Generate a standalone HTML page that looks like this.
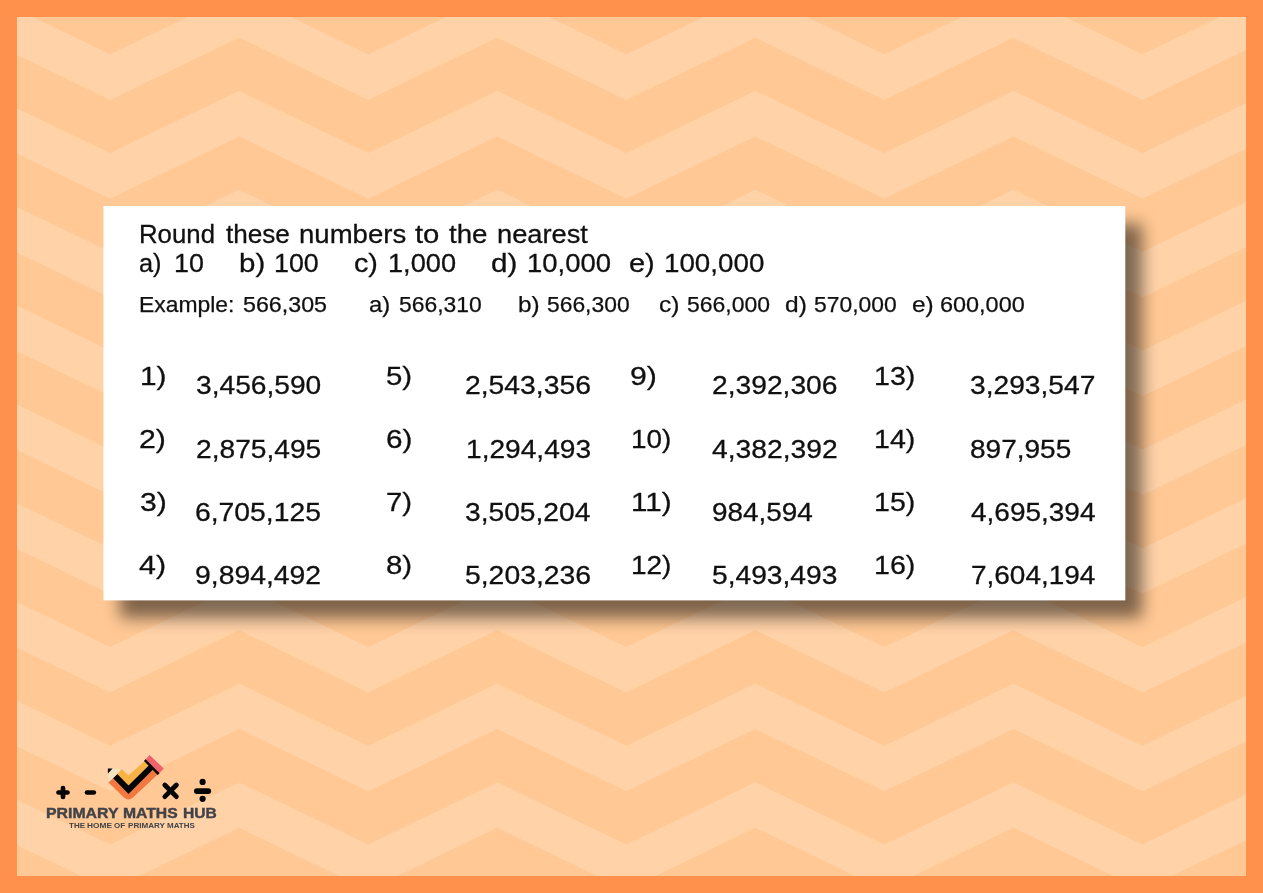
<!DOCTYPE html>
<html lang="en"><head><meta charset="utf-8"><title>Rounding numbers</title>
<style>
html,body{margin:0;padding:0}
body{width:1263px;height:893px;overflow:hidden;background:#FF914D;position:relative;font-family:"Liberation Sans",sans-serif}
#bg{position:absolute;left:0;top:0;width:1263px;height:893px;display:block}
#shadow{position:absolute;left:119.5px;top:223.7px;width:1022.5px;height:394.8px;background:rgba(0,0,0,0.5);filter:blur(8px)}
#card{position:absolute;left:0;top:0;width:1263px;height:893px;display:block}
.t{position:absolute;white-space:pre;line-height:1;transform-origin:0 0;font-family:"Liberation Sans",sans-serif}
#logo{position:absolute;left:0;top:0;width:1263px;height:893px;display:block;pointer-events:none}
</style></head><body>
<svg id="bg" width="1263" height="893" viewBox="0 0 1263 893">
<defs><clipPath id="inner"><rect x="17" y="17" width="1229" height="859"/></clipPath></defs>
<rect x="17" y="17" width="1229" height="859" fill="#FFC894"/>
<g clip-path="url(#inner)" fill="#FFD2A7">
<polygon points="-406.10,-143.24 -277.05,-205.44 -148.00,-143.24 -18.95,-205.44 110.10,-143.24 239.15,-205.44 368.20,-143.24 497.25,-205.44 626.30,-143.24 755.35,-205.44 884.40,-143.24 1013.45,-205.44 1142.50,-143.24 1271.55,-205.44 1400.60,-143.24 1529.65,-205.44 1658.70,-143.24 1787.75,-205.44 1787.75,-159.84 1658.70,-97.64 1529.65,-159.84 1400.60,-97.64 1271.55,-159.84 1142.50,-97.64 1013.45,-159.84 884.40,-97.64 755.35,-159.84 626.30,-97.64 497.25,-159.84 368.20,-97.64 239.15,-159.84 110.10,-97.64 -18.95,-159.84 -148.00,-97.64 -277.05,-159.84 -406.10,-97.64"/>
<polygon points="-406.10,-44.47 -277.05,-106.67 -148.00,-44.47 -18.95,-106.67 110.10,-44.47 239.15,-106.67 368.20,-44.47 497.25,-106.67 626.30,-44.47 755.35,-106.67 884.40,-44.47 1013.45,-106.67 1142.50,-44.47 1271.55,-106.67 1400.60,-44.47 1529.65,-106.67 1658.70,-44.47 1787.75,-106.67 1787.75,-61.07 1658.70,1.13 1529.65,-61.07 1400.60,1.13 1271.55,-61.07 1142.50,1.13 1013.45,-61.07 884.40,1.13 755.35,-61.07 626.30,1.13 497.25,-61.07 368.20,1.13 239.15,-61.07 110.10,1.13 -18.95,-61.07 -148.00,1.13 -277.05,-61.07 -406.10,1.13"/>
<polygon points="-406.10,54.30 -277.05,-7.90 -148.00,54.30 -18.95,-7.90 110.10,54.30 239.15,-7.90 368.20,54.30 497.25,-7.90 626.30,54.30 755.35,-7.90 884.40,54.30 1013.45,-7.90 1142.50,54.30 1271.55,-7.90 1400.60,54.30 1529.65,-7.90 1658.70,54.30 1787.75,-7.90 1787.75,37.70 1658.70,99.90 1529.65,37.70 1400.60,99.90 1271.55,37.70 1142.50,99.90 1013.45,37.70 884.40,99.90 755.35,37.70 626.30,99.90 497.25,37.70 368.20,99.90 239.15,37.70 110.10,99.90 -18.95,37.70 -148.00,99.90 -277.05,37.70 -406.10,99.90"/>
<polygon points="-406.10,153.07 -277.05,90.87 -148.00,153.07 -18.95,90.87 110.10,153.07 239.15,90.87 368.20,153.07 497.25,90.87 626.30,153.07 755.35,90.87 884.40,153.07 1013.45,90.87 1142.50,153.07 1271.55,90.87 1400.60,153.07 1529.65,90.87 1658.70,153.07 1787.75,90.87 1787.75,136.47 1658.70,198.67 1529.65,136.47 1400.60,198.67 1271.55,136.47 1142.50,198.67 1013.45,136.47 884.40,198.67 755.35,136.47 626.30,198.67 497.25,136.47 368.20,198.67 239.15,136.47 110.10,198.67 -18.95,136.47 -148.00,198.67 -277.05,136.47 -406.10,198.67"/>
<polygon points="-406.10,251.84 -277.05,189.64 -148.00,251.84 -18.95,189.64 110.10,251.84 239.15,189.64 368.20,251.84 497.25,189.64 626.30,251.84 755.35,189.64 884.40,251.84 1013.45,189.64 1142.50,251.84 1271.55,189.64 1400.60,251.84 1529.65,189.64 1658.70,251.84 1787.75,189.64 1787.75,235.24 1658.70,297.44 1529.65,235.24 1400.60,297.44 1271.55,235.24 1142.50,297.44 1013.45,235.24 884.40,297.44 755.35,235.24 626.30,297.44 497.25,235.24 368.20,297.44 239.15,235.24 110.10,297.44 -18.95,235.24 -148.00,297.44 -277.05,235.24 -406.10,297.44"/>
<polygon points="-406.10,350.61 -277.05,288.41 -148.00,350.61 -18.95,288.41 110.10,350.61 239.15,288.41 368.20,350.61 497.25,288.41 626.30,350.61 755.35,288.41 884.40,350.61 1013.45,288.41 1142.50,350.61 1271.55,288.41 1400.60,350.61 1529.65,288.41 1658.70,350.61 1787.75,288.41 1787.75,334.01 1658.70,396.21 1529.65,334.01 1400.60,396.21 1271.55,334.01 1142.50,396.21 1013.45,334.01 884.40,396.21 755.35,334.01 626.30,396.21 497.25,334.01 368.20,396.21 239.15,334.01 110.10,396.21 -18.95,334.01 -148.00,396.21 -277.05,334.01 -406.10,396.21"/>
<polygon points="-406.10,449.38 -277.05,387.18 -148.00,449.38 -18.95,387.18 110.10,449.38 239.15,387.18 368.20,449.38 497.25,387.18 626.30,449.38 755.35,387.18 884.40,449.38 1013.45,387.18 1142.50,449.38 1271.55,387.18 1400.60,449.38 1529.65,387.18 1658.70,449.38 1787.75,387.18 1787.75,432.78 1658.70,494.98 1529.65,432.78 1400.60,494.98 1271.55,432.78 1142.50,494.98 1013.45,432.78 884.40,494.98 755.35,432.78 626.30,494.98 497.25,432.78 368.20,494.98 239.15,432.78 110.10,494.98 -18.95,432.78 -148.00,494.98 -277.05,432.78 -406.10,494.98"/>
<polygon points="-406.10,548.15 -277.05,485.95 -148.00,548.15 -18.95,485.95 110.10,548.15 239.15,485.95 368.20,548.15 497.25,485.95 626.30,548.15 755.35,485.95 884.40,548.15 1013.45,485.95 1142.50,548.15 1271.55,485.95 1400.60,548.15 1529.65,485.95 1658.70,548.15 1787.75,485.95 1787.75,531.55 1658.70,593.75 1529.65,531.55 1400.60,593.75 1271.55,531.55 1142.50,593.75 1013.45,531.55 884.40,593.75 755.35,531.55 626.30,593.75 497.25,531.55 368.20,593.75 239.15,531.55 110.10,593.75 -18.95,531.55 -148.00,593.75 -277.05,531.55 -406.10,593.75"/>
<polygon points="-406.10,646.92 -277.05,584.72 -148.00,646.92 -18.95,584.72 110.10,646.92 239.15,584.72 368.20,646.92 497.25,584.72 626.30,646.92 755.35,584.72 884.40,646.92 1013.45,584.72 1142.50,646.92 1271.55,584.72 1400.60,646.92 1529.65,584.72 1658.70,646.92 1787.75,584.72 1787.75,630.32 1658.70,692.52 1529.65,630.32 1400.60,692.52 1271.55,630.32 1142.50,692.52 1013.45,630.32 884.40,692.52 755.35,630.32 626.30,692.52 497.25,630.32 368.20,692.52 239.15,630.32 110.10,692.52 -18.95,630.32 -148.00,692.52 -277.05,630.32 -406.10,692.52"/>
<polygon points="-406.10,745.69 -277.05,683.49 -148.00,745.69 -18.95,683.49 110.10,745.69 239.15,683.49 368.20,745.69 497.25,683.49 626.30,745.69 755.35,683.49 884.40,745.69 1013.45,683.49 1142.50,745.69 1271.55,683.49 1400.60,745.69 1529.65,683.49 1658.70,745.69 1787.75,683.49 1787.75,729.09 1658.70,791.29 1529.65,729.09 1400.60,791.29 1271.55,729.09 1142.50,791.29 1013.45,729.09 884.40,791.29 755.35,729.09 626.30,791.29 497.25,729.09 368.20,791.29 239.15,729.09 110.10,791.29 -18.95,729.09 -148.00,791.29 -277.05,729.09 -406.10,791.29"/>
<polygon points="-406.10,844.46 -277.05,782.26 -148.00,844.46 -18.95,782.26 110.10,844.46 239.15,782.26 368.20,844.46 497.25,782.26 626.30,844.46 755.35,782.26 884.40,844.46 1013.45,782.26 1142.50,844.46 1271.55,782.26 1400.60,844.46 1529.65,782.26 1658.70,844.46 1787.75,782.26 1787.75,827.86 1658.70,890.06 1529.65,827.86 1400.60,890.06 1271.55,827.86 1142.50,890.06 1013.45,827.86 884.40,890.06 755.35,827.86 626.30,890.06 497.25,827.86 368.20,890.06 239.15,827.86 110.10,890.06 -18.95,827.86 -148.00,890.06 -277.05,827.86 -406.10,890.06"/>
<polygon points="-406.10,943.23 -277.05,881.03 -148.00,943.23 -18.95,881.03 110.10,943.23 239.15,881.03 368.20,943.23 497.25,881.03 626.30,943.23 755.35,881.03 884.40,943.23 1013.45,881.03 1142.50,943.23 1271.55,881.03 1400.60,943.23 1529.65,881.03 1658.70,943.23 1787.75,881.03 1787.75,926.63 1658.70,988.83 1529.65,926.63 1400.60,988.83 1271.55,926.63 1142.50,988.83 1013.45,926.63 884.40,988.83 755.35,926.63 626.30,988.83 497.25,926.63 368.20,988.83 239.15,926.63 110.10,988.83 -18.95,926.63 -148.00,988.83 -277.05,926.63 -406.10,988.83"/>
</g>
</svg>
<div id="shadow"></div>
<svg id="card" width="1263" height="893" viewBox="0 0 1263 893"><defs><filter id="soft" x="-1%" y="-2%" width="102%" height="104%"><feGaussianBlur stdDeviation="0.45"/></filter></defs><rect x="103.4" y="206.0" width="1021.90" height="394.40" fill="#fff" filter="url(#soft)"/></svg>
<svg id="logo" width="1263" height="893" viewBox="0 0 1263 893">
<g stroke="#050505" stroke-linecap="round" fill="none">
<path d="M58.5 792.5H67.5M63 788.1V796.9" stroke-width="4.7"/>
<path d="M87 792.5H93.8" stroke-width="4.7"/>
<path d="M164.8 785L176.4 796.6M176.4 785L164.8 796.6" stroke-width="4.8"/>
<path d="M196.9 791.1H208.2" stroke-width="5.9"/>
</g>
<circle cx="202.6" cy="781.9" r="3.1" fill="#050505"/>
<circle cx="202.6" cy="798.8" r="3.1" fill="#050505"/>
<polygon points="108.1,768.6 121.6,768.9 117.5,773.9 113.1,778.3 108.4,782.6" fill="#F3E3C3"/>
<polygon points="107.9,768.5 112.6,768.5 107.9,773.6" fill="#050505"/>
<path d="M113.1 778.3L108.4 782.6L124.3 797.7Q128.5 801.3 132.7 797.7L158.1 774.0L153.1 769.5L128.5 794Z" fill="#F2783F"/>
<polygon points="117.5,773.9 128.5,785.2 149.0,765.1 153.1,769.5 128.5,794 113.1,778.3" fill="#050505"/>
<polygon points="121.6,768.9 128.5,775.6 145.3,760.5 149.0,765.1 128.5,785.2 117.5,773.9" fill="#F8B143"/>
<polygon points="143.9,760.9 145.9,759.0 159.7,773.1 157.7,775.0" fill="#050505"/>
<polygon points="149.6,754.9 163.7,768.5 159.5,773.2 145.7,759.2" fill="#EE6269"/>
</svg>

<span class="t" style="left:139.28px;top:221px;font-size:26.5px;font-weight:400;color:#101010;-webkit-text-stroke:0.3px #101010;transform:scaleX(0.9731)">Round</span>
<span class="t" style="left:225.61px;top:221px;font-size:26.5px;font-weight:400;color:#101010;-webkit-text-stroke:0.3px #101010;transform:scaleX(0.9856)">these</span>
<span class="t" style="left:299.12px;top:221px;font-size:26.5px;font-weight:400;color:#101010;-webkit-text-stroke:0.3px #101010;transform:scaleX(1.0401)">numbers</span>
<span class="t" style="left:414.82px;top:221px;font-size:26.5px;font-weight:400;color:#101010;-webkit-text-stroke:0.3px #101010;transform:scaleX(1.1031)">to</span>
<span class="t" style="left:448.91px;top:221px;font-size:26.5px;font-weight:400;color:#101010;-webkit-text-stroke:0.3px #101010;transform:scaleX(1.0435)">the</span>
<span class="t" style="left:496.60px;top:221px;font-size:26.5px;font-weight:400;color:#101010;-webkit-text-stroke:0.3px #101010;transform:scaleX(1.0273)">nearest</span>
<span class="t" style="left:139.25px;top:250px;font-size:26.5px;font-weight:400;color:#101010;-webkit-text-stroke:0.3px #101010;transform:scaleX(0.9561)">a)</span>
<span class="t" style="left:174.35px;top:250px;font-size:26.5px;font-weight:400;color:#101010;-webkit-text-stroke:0.3px #101010;transform:scaleX(1.0144)">10</span>
<span class="t" style="left:239.41px;top:250px;font-size:26.5px;font-weight:400;color:#101010;-webkit-text-stroke:0.3px #101010;transform:scaleX(1.1113)">b)</span>
<span class="t" style="left:274.49px;top:250px;font-size:26.5px;font-weight:400;color:#101010;-webkit-text-stroke:0.3px #101010;transform:scaleX(1.0100)">100</span>
<span class="t" style="left:354.40px;top:250px;font-size:26.5px;font-weight:400;color:#101010;-webkit-text-stroke:0.3px #101010;transform:scaleX(1.0849)">c)</span>
<span class="t" style="left:387.60px;top:250px;font-size:26.5px;font-weight:400;color:#101010;-webkit-text-stroke:0.3px #101010;transform:scaleX(1.0255)">1,000</span>
<span class="t" style="left:491.16px;top:250px;font-size:26.5px;font-weight:400;color:#101010;-webkit-text-stroke:0.3px #101010;transform:scaleX(1.1168)">d)</span>
<span class="t" style="left:527.36px;top:250px;font-size:26.5px;font-weight:400;color:#101010;-webkit-text-stroke:0.3px #101010;transform:scaleX(1.0363)">10,000</span>
<span class="t" style="left:628.56px;top:250px;font-size:26.5px;font-weight:400;color:#101010;-webkit-text-stroke:0.3px #101010;transform:scaleX(1.0920)">e)</span>
<span class="t" style="left:663.52px;top:250px;font-size:26.5px;font-weight:400;color:#101010;-webkit-text-stroke:0.3px #101010;transform:scaleX(1.0472)">100,000</span>
<span class="t" style="left:138.87px;top:294px;font-size:21.7px;font-weight:400;color:#101010;-webkit-text-stroke:0.25px #101010;transform:scaleX(1.0544)">Example:</span>
<span class="t" style="left:242.64px;top:294px;font-size:21.7px;font-weight:400;color:#101010;-webkit-text-stroke:0.25px #101010;transform:scaleX(1.0715)">566,305</span>
<span class="t" style="left:369.16px;top:294px;font-size:21.7px;font-weight:400;color:#101010;-webkit-text-stroke:0.25px #101010;transform:scaleX(1.0974)">a)</span>
<span class="t" style="left:398.72px;top:294px;font-size:21.7px;font-weight:400;color:#101010;-webkit-text-stroke:0.25px #101010;transform:scaleX(1.0550)">566,310</span>
<span class="t" style="left:517.80px;top:294px;font-size:21.7px;font-weight:400;color:#101010;-webkit-text-stroke:0.25px #101010;transform:scaleX(1.1224)">b)</span>
<span class="t" style="left:547.46px;top:294px;font-size:21.7px;font-weight:400;color:#101010;-webkit-text-stroke:0.25px #101010;transform:scaleX(1.0534)">566,300</span>
<span class="t" style="left:659.31px;top:294px;font-size:21.7px;font-weight:400;color:#101010;-webkit-text-stroke:0.25px #101010;transform:scaleX(1.1348)">c)</span>
<span class="t" style="left:686.81px;top:294px;font-size:21.7px;font-weight:400;color:#101010;-webkit-text-stroke:0.25px #101010;transform:scaleX(1.0590)">566,000</span>
<span class="t" style="left:784.64px;top:294px;font-size:21.7px;font-weight:400;color:#101010;-webkit-text-stroke:0.25px #101010;transform:scaleX(1.1306)">d)</span>
<span class="t" style="left:813.82px;top:294px;font-size:21.7px;font-weight:400;color:#101010;-webkit-text-stroke:0.25px #101010;transform:scaleX(1.0538)">570,000</span>
<span class="t" style="left:912.22px;top:294px;font-size:21.7px;font-weight:400;color:#101010;-webkit-text-stroke:0.25px #101010;transform:scaleX(1.1271)">e)</span>
<span class="t" style="left:939.89px;top:294px;font-size:21.7px;font-weight:400;color:#101010;-webkit-text-stroke:0.25px #101010;transform:scaleX(1.0808)">600,000</span>
<span class="t" style="left:139.59px;top:363px;font-size:26.5px;font-weight:400;color:#101010;-webkit-text-stroke:0.3px #101010;transform:scaleX(1.1248)">1)</span>
<span class="t" style="left:195.75px;top:372px;font-size:26.5px;font-weight:400;color:#101010;-webkit-text-stroke:0.3px #101010;transform:scaleX(1.0627)">3,456,590</span>
<span class="t" style="left:139.26px;top:426px;font-size:26.5px;font-weight:400;color:#101010;-webkit-text-stroke:0.3px #101010;transform:scaleX(1.1413)">2)</span>
<span class="t" style="left:195.81px;top:436px;font-size:26.5px;font-weight:400;color:#101010;-webkit-text-stroke:0.3px #101010;transform:scaleX(1.0626)">2,875,495</span>
<span class="t" style="left:139.85px;top:489px;font-size:26.5px;font-weight:400;color:#101010;-webkit-text-stroke:0.3px #101010;transform:scaleX(1.1359)">3)</span>
<span class="t" style="left:195.37px;top:499px;font-size:26.5px;font-weight:400;color:#101010;-webkit-text-stroke:0.3px #101010;transform:scaleX(1.0684)">6,705,125</span>
<span class="t" style="left:138.96px;top:552px;font-size:26.5px;font-weight:400;color:#101010;-webkit-text-stroke:0.3px #101010;transform:scaleX(1.1461)">4)</span>
<span class="t" style="left:194.91px;top:562px;font-size:26.5px;font-weight:400;color:#101010;-webkit-text-stroke:0.3px #101010;transform:scaleX(1.0696)">9,894,492</span>
<span class="t" style="left:386.02px;top:363px;font-size:26.5px;font-weight:400;color:#101010;-webkit-text-stroke:0.3px #101010;transform:scaleX(1.1083)">5)</span>
<span class="t" style="left:464.85px;top:372px;font-size:26.5px;font-weight:400;color:#101010;-webkit-text-stroke:0.3px #101010;transform:scaleX(1.0682)">2,543,356</span>
<span class="t" style="left:385.63px;top:426px;font-size:26.5px;font-weight:400;color:#101010;-webkit-text-stroke:0.3px #101010;transform:scaleX(1.1206)">6)</span>
<span class="t" style="left:465.76px;top:436px;font-size:26.5px;font-weight:400;color:#101010;-webkit-text-stroke:0.3px #101010;transform:scaleX(1.0612)">1,294,493</span>
<span class="t" style="left:386.06px;top:489px;font-size:26.5px;font-weight:400;color:#101010;-webkit-text-stroke:0.3px #101010;transform:scaleX(1.1060)">7)</span>
<span class="t" style="left:465.10px;top:499px;font-size:26.5px;font-weight:400;color:#101010;-webkit-text-stroke:0.3px #101010;transform:scaleX(1.0631)">3,505,204</span>
<span class="t" style="left:386.18px;top:552px;font-size:26.5px;font-weight:400;color:#101010;-webkit-text-stroke:0.3px #101010;transform:scaleX(1.1077)">8)</span>
<span class="t" style="left:464.78px;top:562px;font-size:26.5px;font-weight:400;color:#101010;-webkit-text-stroke:0.3px #101010;transform:scaleX(1.0689)">5,203,236</span>
<span class="t" style="left:630.08px;top:363px;font-size:26.5px;font-weight:400;color:#101010;-webkit-text-stroke:0.3px #101010;transform:scaleX(1.1401)">9)</span>
<span class="t" style="left:712.45px;top:372px;font-size:26.5px;font-weight:400;color:#101010;-webkit-text-stroke:0.3px #101010;transform:scaleX(1.0645)">2,392,306</span>
<span class="t" style="left:630.55px;top:426px;font-size:26.5px;font-weight:400;color:#101010;-webkit-text-stroke:0.3px #101010;transform:scaleX(1.0514)">10)</span>
<span class="t" style="left:711.89px;top:436px;font-size:26.5px;font-weight:400;color:#101010;-webkit-text-stroke:0.3px #101010;transform:scaleX(1.0653)">4,382,392</span>
<span class="t" style="left:630.77px;top:489px;font-size:26.5px;font-weight:400;color:#101010;-webkit-text-stroke:0.3px #101010;transform:scaleX(1.1150)">11)</span>
<span class="t" style="left:712.23px;top:499px;font-size:26.5px;font-weight:400;color:#101010;-webkit-text-stroke:0.3px #101010;transform:scaleX(1.0524)">984,594</span>
<span class="t" style="left:630.57px;top:552px;font-size:26.5px;font-weight:400;color:#101010;-webkit-text-stroke:0.3px #101010;transform:scaleX(1.0554)">12)</span>
<span class="t" style="left:712.19px;top:562px;font-size:26.5px;font-weight:400;color:#101010;-webkit-text-stroke:0.3px #101010;transform:scaleX(1.0633)">5,493,493</span>
<span class="t" style="left:874.45px;top:363px;font-size:26.5px;font-weight:400;color:#101010;-webkit-text-stroke:0.3px #101010;transform:scaleX(1.0783)">13)</span>
<span class="t" style="left:970.09px;top:372px;font-size:26.5px;font-weight:400;color:#101010;-webkit-text-stroke:0.3px #101010;transform:scaleX(1.0633)">3,293,547</span>
<span class="t" style="left:874.45px;top:426px;font-size:26.5px;font-weight:400;color:#101010;-webkit-text-stroke:0.3px #101010;transform:scaleX(1.0783)">14)</span>
<span class="t" style="left:969.87px;top:436px;font-size:26.5px;font-weight:400;color:#101010;-webkit-text-stroke:0.3px #101010;transform:scaleX(1.0565)">897,955</span>
<span class="t" style="left:874.16px;top:489px;font-size:26.5px;font-weight:400;color:#101010;-webkit-text-stroke:0.3px #101010;transform:scaleX(1.0775)">15)</span>
<span class="t" style="left:971.34px;top:499px;font-size:26.5px;font-weight:400;color:#101010;-webkit-text-stroke:0.3px #101010;transform:scaleX(1.0555)">4,695,394</span>
<span class="t" style="left:874.16px;top:552px;font-size:26.5px;font-weight:400;color:#101010;-webkit-text-stroke:0.3px #101010;transform:scaleX(1.0775)">16)</span>
<span class="t" style="left:970.84px;top:562px;font-size:26.5px;font-weight:400;color:#101010;-webkit-text-stroke:0.3px #101010;transform:scaleX(1.0551)">7,604,194</span>
<span class="t" style="left:46.35px;top:806px;font-size:14.2px;font-weight:700;color:#404349;-webkit-text-stroke:0.4px #404349;transform:scaleX(1.1164)">PRIMARY</span>
<span class="t" style="left:123.35px;top:806px;font-size:14.2px;font-weight:700;color:#404349;-webkit-text-stroke:0.4px #404349;transform:scaleX(1.1065)">MATHS</span>
<span class="t" style="left:182.62px;top:806px;font-size:14.2px;font-weight:700;color:#404349;-webkit-text-stroke:0.4px #404349;transform:scaleX(1.0966)">HUB</span>
<span class="t" style="left:69.36px;top:822px;font-size:7.0px;font-weight:700;color:#404349;transform:scaleX(1.1467)">THE</span>
<span class="t" style="left:87.22px;top:822px;font-size:7.0px;font-weight:700;color:#404349;transform:scaleX(1.1891)">HOME</span>
<span class="t" style="left:114.16px;top:822px;font-size:7.0px;font-weight:700;color:#404349;transform:scaleX(1.1381)">OF</span>
<span class="t" style="left:127.91px;top:822px;font-size:7.0px;font-weight:700;color:#404349;transform:scaleX(1.1543)">PRIMARY</span>
<span class="t" style="left:166.90px;top:822px;font-size:7.0px;font-weight:700;color:#404349;transform:scaleX(1.1398)">MATHS</span>
</body></html>
